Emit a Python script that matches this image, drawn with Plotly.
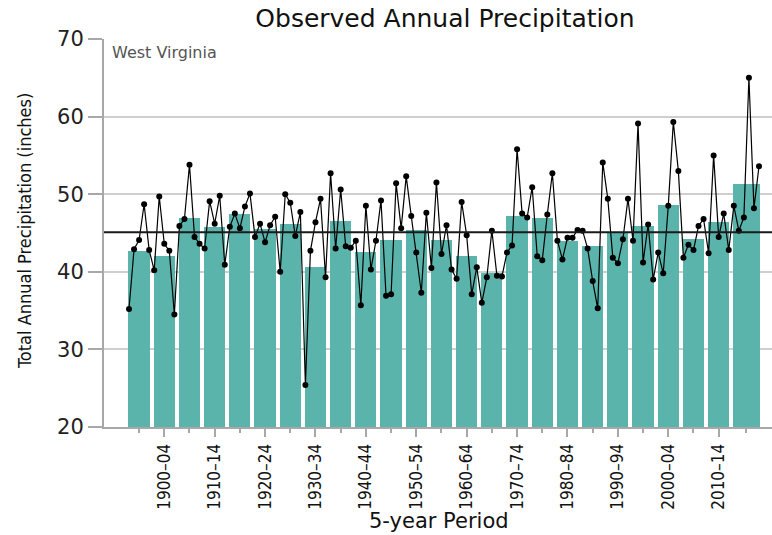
import plotly.graph_objects as go

# Annual precipitation totals, West Virginia (inches)
years = list(range(1895, 2021))
annual_precip = [
    35.2, 42.9, 44.1, 48.7, 42.8,
    40.2, 49.7, 43.6, 42.7, 34.5,
    45.9, 46.8, 53.8, 44.5, 43.6,
    43.0, 49.1, 46.2, 49.8, 40.9,
    45.8, 47.5, 45.6, 48.4, 50.1,
    44.5, 46.2, 43.8, 46.0, 47.1,
    40.0, 50.0, 48.9, 44.6, 47.7,
    25.4, 42.7, 46.4, 49.4, 39.3,
    52.7, 43.0, 50.6, 43.3, 43.1,
    44.0, 35.7, 48.5, 40.3, 44.0,
    49.2, 36.9, 37.1, 51.4, 45.6,
    52.3, 47.2, 42.5, 37.3, 47.6,
    40.5, 51.5, 42.3, 46.0, 40.3,
    39.1, 49.0, 44.7, 37.1, 40.6,
    36.0, 39.3, 45.3, 39.5, 39.4,
    42.5, 43.4, 55.8, 47.5, 47.0,
    50.9, 42.0, 41.5, 47.4, 52.7,
    44.0, 41.6, 44.4, 44.4, 45.4,
    45.3, 43.0, 38.8, 35.3, 54.1,
    49.4, 41.8, 41.1, 44.2, 49.4,
    44.0, 59.1, 41.2, 46.1, 39.0,
    42.5, 39.8, 48.5, 59.3, 53.0,
    41.8, 43.5, 42.8, 45.9, 46.8,
    42.4, 55.0, 44.5, 47.5, 42.8,
    48.5, 45.3, 47.0, 65.0, 48.2, 53.6,
]

# 5-year period averages (last period runs 2015-2020)
period_start = list(range(1895, 2020, 5))
period_end = [s + 4 for s in period_start[:-1]] + [2020]
period_precip = [
    42.7, 42.1, 46.9, 45.8, 47.5, 45.5, 46.2, 40.6, 46.5, 42.5,
    44.1, 45.4, 44.1, 42.1, 39.9, 47.2, 46.9, 44.0, 43.3, 45.1,
    45.9, 48.6, 44.2, 46.4, 51.3,
]
long_term_mean = 45.1

label_periods = ["1900–04", "1910–14", "1920–24", "1930–34", "1940–44", "1950–54",
                 "1960–64", "1970–74", "1980–84", "1990–94", "2000–04", "2010–14"]
label_starts = [int(p[:4]) for p in label_periods]

bar_x = [(s + e) / 2 for s, e in zip(period_start, period_end)]
bar_w = [(e - s) + 0.2 for s, e in zip(period_start, period_end)]
major_ticks = [s + 2 for s in label_starts]
minor_ticks = [x for x in bar_x if x not in major_ticks]

TEAL = "#5AB4AC"
GRID = "#CFCFCF"
AXIS = "#A8A8A8"
FONT = "DejaVu Sans"
NARROW = "DejaVu Sans Condensed, Liberation Sans Narrow, Liberation Sans"

fig = go.Figure()
fig.add_trace(go.Bar(
    x=bar_x, y=period_precip, width=bar_w, base=0,
    marker=dict(color=TEAL, line=dict(width=0)),
    hoverinfo="skip", showlegend=False,
))
fig.add_trace(go.Scatter(
    x=years, y=annual_precip, mode="lines+markers",
    line=dict(color="black", width=1.2),
    marker=dict(color="black", size=6),
    showlegend=False,
))

fig.add_shape(type="line", xref="paper", yref="y", x0=0, x1=1,
              y0=long_term_mean, y1=long_term_mean,
              line=dict(color="#1a1a1a", width=2), layer="above")

fig.update_layout(
    width=772, height=535,
    margin=dict(l=104, r=0, t=39, b=108),
    paper_bgcolor="white", plot_bgcolor="white",
    bargap=0,
    title=dict(text="Observed Annual Precipitation", x=445 / 772, xanchor="center",
               y=1 - 18 / 535, yanchor="middle", yref="container",
               font=dict(family=FONT, size=25, color="#111")),
    xaxis=dict(
        range=[1890.04, 2022.58], showgrid=False, zeroline=False,
        showline=True, linecolor=AXIS, linewidth=2,
        tickmode="array", tickvals=major_ticks, ticktext=label_periods,
        ticks="outside", ticklen=8, tickwidth=2, tickcolor=AXIS,
        tickangle=-90, tickfont=dict(family=NARROW, size=17, color="#111"),
        minor=dict(tickmode="array", tickvals=minor_ticks, ticks="outside",
                   ticklen=4, tickwidth=2, tickcolor=AXIS, showgrid=False),
    ),
    yaxis=dict(
        range=[20, 70], tickvals=[20, 30, 40, 50, 60, 70],
        showgrid=True, gridcolor=GRID, gridwidth=2, zeroline=False,
        showline=True, linecolor=AXIS, linewidth=2,
        ticks="outside", ticklen=14, tickwidth=2, tickcolor=AXIS,
        tickfont=dict(family=FONT, size=21, color="#222"),
    ),
    annotations=[
        dict(text="Total Annual Precipitation (inches)", xref="paper", yref="paper",
             x=(24 - 104) / 668, y=(427 - 231) / 388, textangle=-90,
             showarrow=False, xanchor="center", yanchor="middle",
             font=dict(family=NARROW, size=18, color="#111")),
        dict(text="5-year Period", xref="paper", yref="paper",
             x=(439 - 104) / 668, y=-(521 - 427) / 388,
             showarrow=False, xanchor="center", yanchor="middle",
             font=dict(family=FONT, size=21, color="#111")),
        dict(text="West Virginia", xref="paper", yref="paper",
             x=(110 - 104) / 668, y=(427 - 52) / 388,
             showarrow=False, xanchor="left", yanchor="middle",
             font=dict(family=FONT, size=16, color="#555")),
    ],
)

fig.write_html("out.html")
